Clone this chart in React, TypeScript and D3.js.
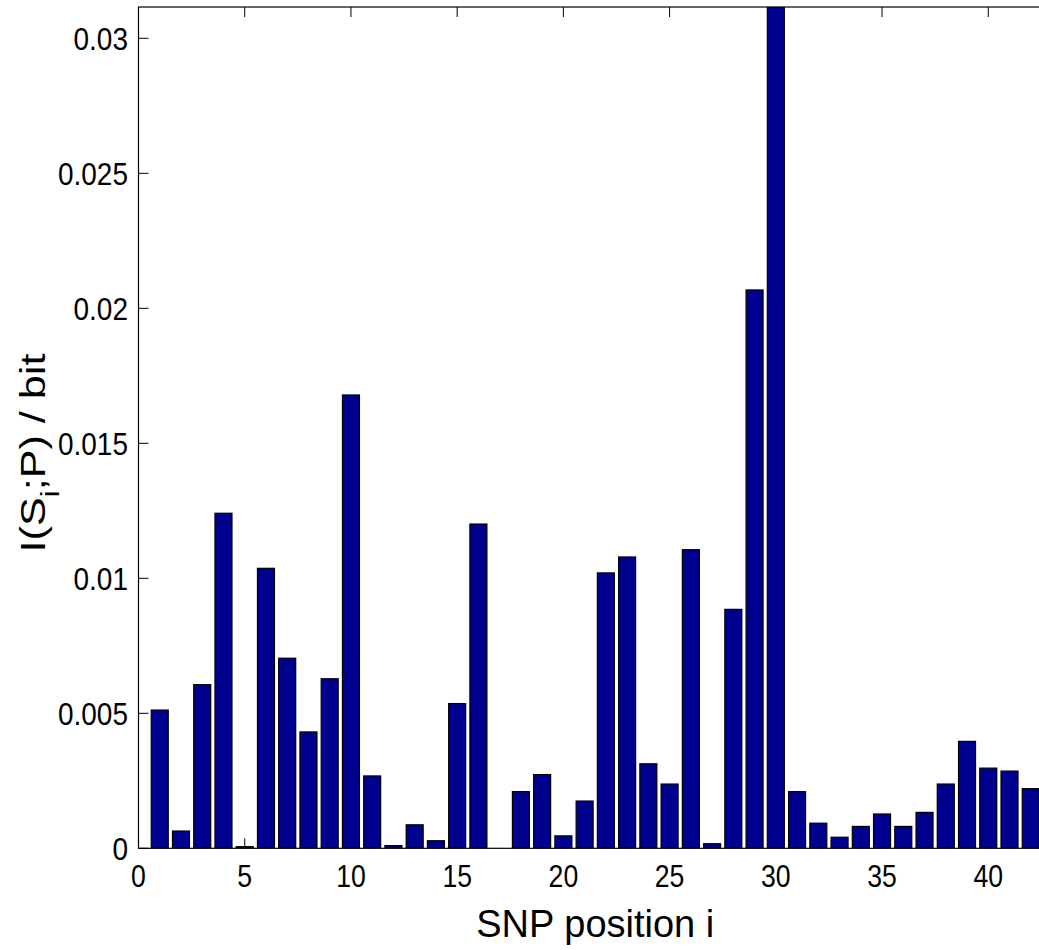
import React from "react";
import * as d3 from "d3";

const positions: number[] = Array.from({ length: 42 }, (_, i) => i + 1);
const values: number[] = [
  0.00512, 0.00064, 0.00606, 0.01241, 0.00006, 0.01037, 0.00704, 0.00431, 0.00628, 0.01679,
  0.00268, 0.0001, 0.00087, 0.00028, 0.00536, 0.01201, 0.0, 0.0021, 0.00273, 0.00046,
  0.00175, 0.0102, 0.01079, 0.00313, 0.00238, 0.01106, 0.00017, 0.00885, 0.02068, 0.0312,
  0.0021, 0.00093, 0.00041, 0.00081, 0.00127, 0.00081, 0.00133, 0.00238, 0.00396, 0.00297,
  0.00286, 0.00221,
];
const xTicks: number[] = [0, 5, 10, 15, 20, 25, 30, 35, 40];
const yTicks: number[] = [0, 0.005, 0.01, 0.015, 0.02, 0.025, 0.03];
const yTickLabels: string[] = ["0", "0.005", "0.01", "0.015", "0.02", "0.025", "0.03"];
const xDomain: [number, number] = [0, 43];
const yDomain: [number, number] = [0, 0.03116];

const W = 1039;
const H = 950;
const L = 138.5;
const R = 1052;
const T = 7;
const B = 848.3;

export default function App() {
  const x = d3.scaleLinear().domain(xDomain).range([L, R]);
  const y = d3.scaleLinear().domain(yDomain).range([B, T]);
  const barW = x(0.8) - x(0);
  const font = "Arial, 'Liberation Sans', Helvetica, sans-serif";
  const tickLen = 10;

  return (
    <svg
      width={W}
      height={H}
      style={{ position: "absolute", left: 0, top: 0, background: "#fff", overflow: "hidden" }}
      fontFamily={font}
    >
      <defs>
        <clipPath id="plot">
          <rect x={L} y={T} width={R - L} height={B - T} />
        </clipPath>
      </defs>
      <rect x={0} y={0} width={W} height={H} fill="#fff" />
      {/* ticks (behind bars) */}
      <g stroke="#000" strokeWidth={1}>
        {xTicks.map((t) => (
          <g key={"xt" + t}>
            <line x1={x(t)} x2={x(t)} y1={B} y2={B - tickLen} />
            <line x1={x(t)} x2={x(t)} y1={T} y2={T + tickLen} />
          </g>
        ))}
        {yTicks.map((t) => (
          <g key={"yt" + t}>
            <line x1={L} x2={L + tickLen} y1={y(t)} y2={y(t)} />
            <line x1={R} x2={R - tickLen} y1={y(t)} y2={y(t)} />
          </g>
        ))}
      </g>
      {/* bars */}
      <g clipPath="url(#plot)">
        {values.map((v, i) =>
          v > 0 ? (
            <rect
              key={"b" + i}
              x={x(positions[i]) - barW / 2}
              y={y(v)}
              width={barW}
              height={y(0) - y(v)}
              fill="#00008F"
              stroke="#000"
              strokeWidth={1.2}
            />
          ) : null
        )}
      </g>
      {/* axes box */}
      <rect x={L} y={T} width={R - L} height={B - T} fill="none" stroke="#000" strokeWidth={1.2} />
      {/* tick labels */}
      <g fontSize={28} fill="#000">
        {xTicks.map((t) => (
          <text
            key={"xl" + t}
            transform={`translate(${x(t)},887) scale(0.95,1.12)`}
            textAnchor="middle"
          >
            {String(t)}
          </text>
        ))}
        {yTicks.map((t, i) => (
          <text
            key={"yl" + t}
            transform={`translate(128,${y(t)}) scale(1,1.12)`}
            dy="0.36em"
            textAnchor="end"
          >
            {yTickLabels[i]}
          </text>
        ))}
      </g>
      {/* axis labels */}
      <text x={(L + R) / 2} y={937} textAnchor="middle" fontSize={38} fill="#000">
        SNP position i
      </text>
      <text
        transform={`translate(45,453) rotate(-90) scale(1.2,1)`}
        textAnchor="middle"
        fontSize={36}
        fill="#000"
      >
        I(S
        <tspan baselineShift="sub" fontSize={26}>i</tspan>
        <tspan>;P) / bit</tspan>
      </text>
    </svg>
  );
}
